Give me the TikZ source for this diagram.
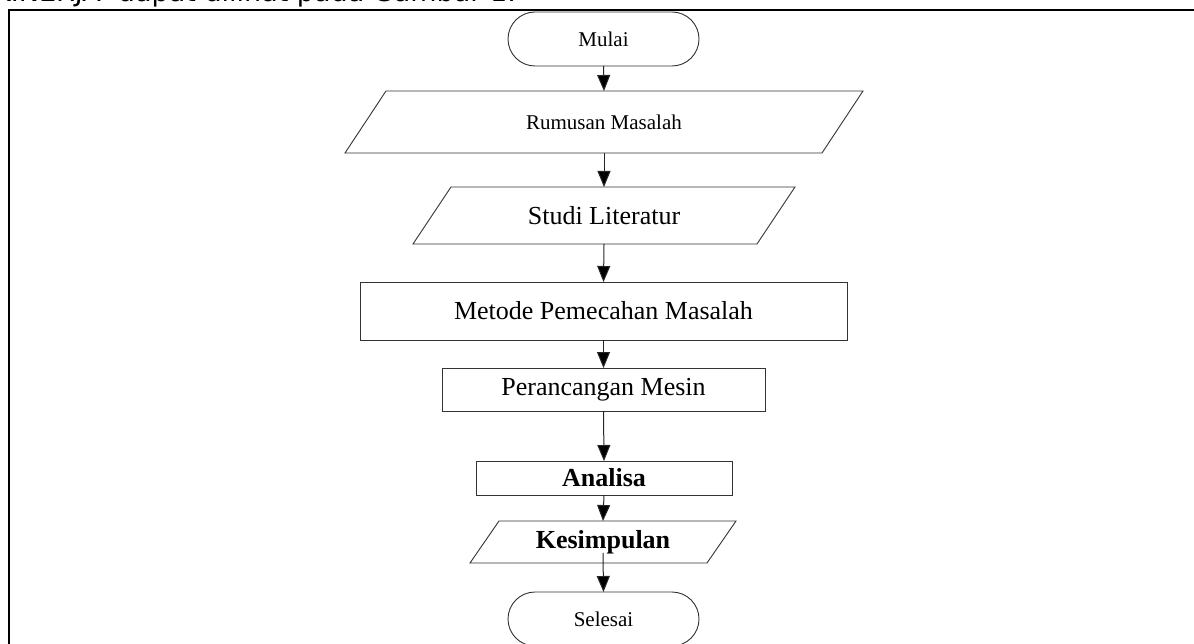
\documentclass[tikz,border=0pt]{standalone}
\usepackage{fontspec}
\setmainfont{Liberation Serif}
\newfontfamily\capfont{DejaVu Sans}
\usetikzlibrary{arrows.meta}
\tikzset{
  shp/.style={draw=black!80, line width=0.9pt, inner sep=0pt, outer sep=0pt, align=center},
  boxnode/.style={shp, rectangle},
  termnode/.style={shp, rectangle, rounded corners=27pt},
  paranode/.style={inner sep=0pt, outer sep=0pt, align=center},
  flow/.style={draw=black!85, line width=1pt, -{Triangle[length=16pt,width=13pt,fill=black]}},
  bigtxt/.style={font=\fontsize{26}{30}\selectfont},
  smalltxt/.style={font=\fontsize{21}{25}\selectfont},
}
% draw parallelogram around a node: #1 node name, #2 half slant
\newcommand\paraoutline[2]{%
  \draw[draw=black!80, line width=0.9pt]
    ([xshift=#2]#1.north west) -- ([xshift=#2]#1.north east)
    -- ([xshift=-#2]#1.south east) -- ([xshift=-#2]#1.south west) -- cycle;}
\begin{document}
\begin{tikzpicture}[x=1pt,y=-1pt]
\useasboundingbox (0,0) rectangle (1194,644);
\fill[white] (0,0) rectangle (1194,644);
% cut-off caption above the frame
\node[anchor=base east, inner sep=0pt, font=\capfont\fontsize{27}{31}\selectfont] (cap) at (516,2) {KINERJA\ \ dapat dilihat pada Gambar 1.};
% frame
\draw[line width=2.5pt] (9,650) -- (9,10) -- (1200,10);
% nodes
\node[termnode, smalltxt, minimum width=191pt, minimum height=54pt] (mulai) at (603.5,39) {Mulai};
\node[paranode, smalltxt, minimum width=477pt, minimum height=62pt] (rum) at (604,122) {Rumusan Masalah};
\paraoutline{rum}{20.5pt}
\node[paranode, bigtxt, minimum width=344pt, minimum height=57pt] (studi) at (604,215.5) {Studi Literatur};
\paraoutline{studi}{19pt}
\node[boxnode, bigtxt, minimum width=487pt, minimum height=58pt] (metode) at (603.5,311) {Metode Pemecahan Masalah};
\node[boxnode, bigtxt, minimum width=323pt, minimum height=43pt] (peran) at (603.5,389.5) {Perancangan Mesin};
\node[boxnode, bigtxt, font=\fontsize{26}{30}\selectfont\bfseries, minimum width=256pt, minimum height=34pt] (anal) at (604,478) {Analisa};
\node[paranode, font=\fontsize{26}{30}\selectfont\bfseries, minimum width=237pt, minimum height=42pt] (kes) at (603,542) {Kesimpulan};
\paraoutline{kes}{14.5pt}
\node[termnode, smalltxt, minimum width=191pt, minimum height=54pt] (sel) at (603.5,619) {Selesai};
% connectors
\draw[flow] (mulai.south) -- (rum.north);
\draw[flow] (rum.south) -- (studi.north);
\draw[flow] (studi.south) -- (metode.north);
\draw[flow] (metode.south) -- (peran.north);
\draw[flow] (peran.south) -- (anal.north);
\draw[flow] (anal.south) -- (kes.north);
\draw[flow] ([yshift=10pt]kes.south) -- (sel.north);
\end{tikzpicture}
\end{document}
